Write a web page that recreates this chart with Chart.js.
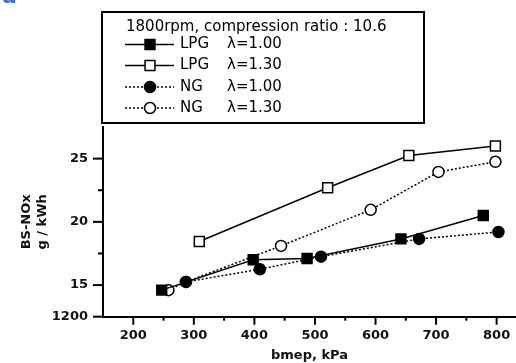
<!DOCTYPE html>
<html>
<head>
<meta charset="utf-8">
<script src="https://cdn.jsdelivr.net/npm/chart.js@4/dist/chart.umd.min.js"></script>
<style>
  body { margin: 0; background: #fff; }
  #wrap { position: relative; width: 516px; height: 363px; overflow: hidden; }
  #tag { position: absolute; left: 2px; top: -17px; color: #3f72c8; font: bold 22px "DejaVu Sans"; }
</style>
</head>
<body>
<div id="wrap">
  <canvas id="myChart" width="516" height="363"></canvas>
  <div id="tag">a</div>
</div>
<script>
// bmep (kPa) and BS-NOx (g/kWh)
var lpg100X = [247, 398, 487, 642, 778];
var lpg100Y = [14.6, 17.0, 17.1, 18.65, 20.5];
var lpg130X = [309, 521, 655, 798];
var lpg130Y = [18.45, 22.7, 25.25, 26.0];
var ng100X = [287, 409, 510, 672, 803];
var ng100Y = [15.25, 16.25, 17.25, 18.65, 19.2];
var ng130X = [258, 287, 444, 592, 704, 798];
var ng130Y = [14.6, 15.25, 18.1, 20.95, 23.95, 24.75];

var legendTitle = "1800rpm, compression ratio : 10.6";
var legendNames = ["LPG", "LPG", "NG", "NG"];
var legendLambda = ["λ=1.00", "λ=1.30", "λ=1.00", "λ=1.30"];

function puntos(xs, ys){
    var out = [];
    for (var i = 0; i < xs.length; i++) out.push({x: xs[i], y: ys[i]});
    return out;
}

var serie = [
    {data: puntos(lpg100X, lpg100Y), style: 'rect', fill: '#000', dash: []},
    {data: puntos(lpg130X, lpg130Y), style: 'rect', fill: '#fff', dash: []},
    {data: puntos(ng100X, ng100Y), style: 'circle', fill: '#000', dash: [2, 2]},
    {data: puntos(ng130X, ng130Y), style: 'circle', fill: '#fff', dash: [2, 2]}
];

function dibujarMarca(ctx, s, x, y){
    Chart.helpers.drawPoint(ctx, {
        pointStyle: s.style,
        radius: s.style == 'rect' ? 7 : 5.5,
        borderWidth: 1.5
    }, x, y);
}

const extras = {
    id: 'extras',
    afterDraw(chart){
        const ctx = chart.ctx;
        const xs = chart.scales.x, ys = chart.scales.y;
        ctx.save();
        ctx.strokeStyle = '#000';
        ctx.lineWidth = 2;
        // tick marks, long at labels, short in between
        xs.ticks.forEach(function(t){
            if (t.value <= xs.min || t.value >= xs.max) return;
            var px = xs.getPixelForValue(t.value);
            var len = t.value % 100 == 0 ? 8 : 4;
            ctx.beginPath();
            ctx.moveTo(px, xs.top);
            ctx.lineTo(px, xs.top + len);
            ctx.stroke();
        });
        ys.ticks.forEach(function(t){
            if (t.value >= ys.max) return;
            var py = ys.getPixelForValue(t.value);
            var len = (t.value % 5 == 0 || t.value == ys.min) ? 10 : 5;
            ctx.beginPath();
            ctx.moveTo(ys.right, py);
            ctx.lineTo(ys.right - len, py);
            ctx.stroke();
        });

        // legend box
        ctx.lineWidth = 2;
        ctx.strokeRect(102, 12, 322, 111);
        ctx.fillStyle = '#000';
        ctx.font = '15px "DejaVu Sans"';
        ctx.textBaseline = 'middle';
        ctx.fillText(legendTitle, 126, 27.5);
        var filas = [44.5, 65.5, 87, 108];
        for (var i = 0; i < serie.length; i++){
            var y = filas[i];
            ctx.lineWidth = 1.5;
            ctx.setLineDash(serie[i].dash);
            ctx.beginPath();
            ctx.moveTo(125, y);
            ctx.lineTo(174, y);
            ctx.stroke();
            ctx.setLineDash([]);
            ctx.fillStyle = serie[i].fill;
            ctx.lineWidth = 1.5;
            dibujarMarca(ctx, serie[i], 150, y);
            ctx.fillStyle = '#000';
            ctx.fillText(legendNames[i], 180, y);
            ctx.fillText(legendLambda[i], 227, y);
        }
        ctx.restore();
    }
};

const ctx = document.getElementById('myChart').getContext('2d');
const chart = new Chart(ctx, {
    type: 'line',
    data: {
        datasets: serie.map(function(s){
            return {
                data: s.data,
                borderColor: '#000',
                borderWidth: 1.5,
                borderDash: s.dash,
                pointStyle: s.style,
                pointRadius: s.style == 'rect' ? 7 : 5.5,
                pointBackgroundColor: s.fill,
                pointBorderColor: '#000',
                pointBorderWidth: 1.5,
                tension: 0,
                fill: false
            };
        })
    },
    options: {
        responsive: false,
        animation: false,
        layout: { autoPadding: false, padding: { top: 127, left: 0, right: 0, bottom: 0 } },
        plugins: { legend: { display: false }, tooltip: { enabled: false } },
        scales: {
            x: {
                type: 'linear',
                min: 150, max: 832,
                afterFit: function(s){ s.height = 46.3; s.paddingRight = 0; s.paddingLeft = 0; },
                grid: { display: false, drawTicks: false },
                border: { display: true, color: '#000', width: 2 },
                ticks: {
                    stepSize: 50,
                    includeBounds: false,
                    padding: 11,
                    autoSkip: false,
                    maxRotation: 0,
                    minRotation: 0,
                    color: '#111',
                    font: { family: 'DejaVu Sans', size: 13, weight: 'bold' },
                    callback: function(v){ return (v % 100 == 0 && v >= 200) ? String(v) : ''; }
                },
                title: {
                    display: true,
                    text: 'bmep, kPa',
                    color: '#111',
                    padding: { top: 0, bottom: 0 },
                    font: { family: 'DejaVu Sans', size: 13, weight: 'bold', lineHeight: 1.2 }
                }
            },
            y: {
                min: 12.5, max: 27.5,
                afterFit: function(s){ s.width = 103; },
                grid: { display: false, drawTicks: false },
                border: { display: true, color: '#000', width: 2 },
                ticks: {
                    stepSize: 2.5,
                    padding: 15,
                    autoSkip: false,
                    color: '#111',
                    font: { family: 'DejaVu Sans', size: 13, weight: 'bold' },
                    callback: function(v){
                        if (v == 12.5) return '1200';
                        return v % 5 == 0 ? String(v) : '';
                    }
                },
                title: {
                    display: true,
                    text: ['BS-NOx', 'g / kWh'],
                    color: '#111',
                    padding: { top: 19, bottom: 0 },
                    font: { family: 'DejaVu Sans', size: 13, weight: 'bold', lineHeight: 1.2 }
                }
            }
        }
    },
    plugins: [extras]
});
</script>
</body>
</html>
